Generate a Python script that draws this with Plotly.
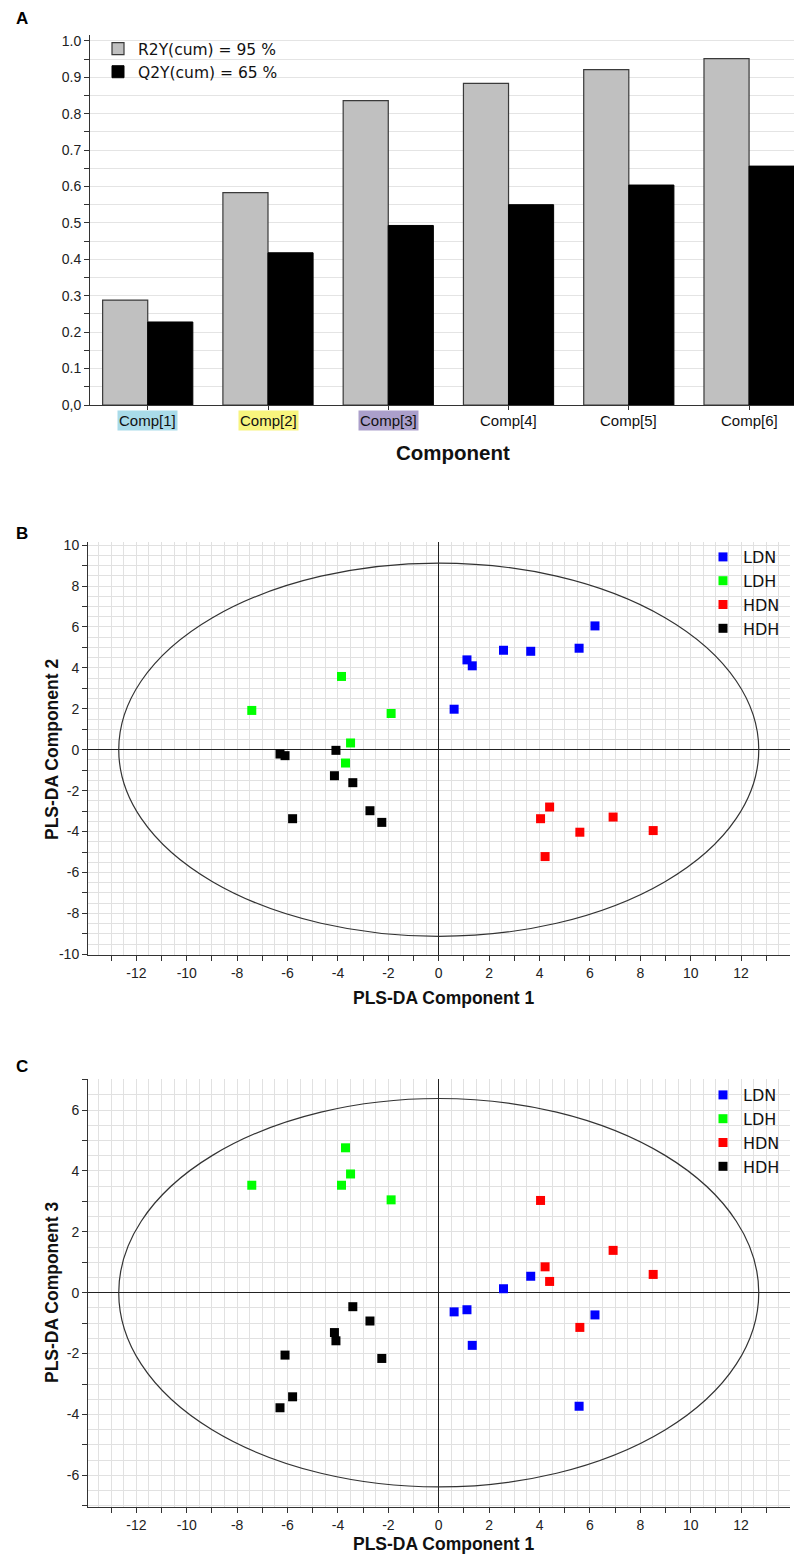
import plotly.graph_objects as go

# page body has an 8px margin: the figure is sized/offset so that it lands on the reference pixels
OFF = 8
W, H = 802 - OFF, 1555 - OFF

# ---------------- Panel A data ----------------
components = ["Comp[1]", "Comp[2]", "Comp[3]", "Comp[4]", "Comp[5]", "Comp[6]"]
r2y_cum = [0.288, 0.583, 0.836, 0.883, 0.921, 0.951]
q2y_cum = [0.228, 0.418, 0.493, 0.550, 0.604, 0.656]
comp_bg = ["#a9dbe9", "#f8f47e", "#ab9fcb", None, None, None]
r2y_name = "R2Y(cum) = 95 %"
q2y_name = "Q2Y(cum) = 65 %"
a_ytick_vals = [round(0.05 * i, 2) for i in range(21)]
a_ytick_text = ["0,0", "", "0.1", "", "0.2", "", "0.3", "", "0.4", "", "0.5", "",
                "0.6", "", "0.7", "", "0.8", "", "0.9", "", "1.0"]

# ---------------- Panels B / C data ----------------
groups = ["LDN", "LDH", "HDN", "HDH"]
group_colors = ["#0000ff", "#00ff00", "#ff0000", "#000000"]

ldn_c1 = [0.61, 1.12, 1.33, 2.57, 3.65, 5.57, 6.20]
ldn_c2 = [1.98, 4.39, 4.10, 4.86, 4.81, 4.96, 6.05]
ldn_c3 = [-0.63, -0.56, -1.73, 0.13, 0.54, -3.73, -0.73]

ldh_c1 = [-7.42, -3.86, -3.70, -3.50, -1.89]
ldh_c2 = [1.92, 3.58, -0.65, 0.33, 1.77]
ldh_c3 = [3.53, 3.53, 4.76, 3.90, 3.05]

hdn_c1 = [4.04, 4.22, 4.40, 5.60, 6.92, 8.51]
hdn_c2 = [-3.37, -5.22, -2.80, -4.03, -3.29, -3.95]
hdn_c3 = [3.03, 0.85, 0.37, -1.14, 1.39, 0.60]

hdh_c1 = [-6.30, -6.10, -5.80, -4.14, -4.08, -3.41, -2.73, -2.26]
hdh_c2 = [-0.21, -0.29, -3.37, -1.27, -0.03, -1.61, -2.98, -3.55]
hdh_c3 = [-3.78, -2.05, -3.42, -1.31, -1.58, -0.46, -0.93, -2.16]

comp1 = [ldn_c1, ldh_c1, hdn_c1, hdh_c1]
comp2 = [ldn_c2, ldh_c2, hdn_c2, hdh_c2]
comp3 = [ldn_c3, ldh_c3, hdn_c3, hdh_c3]

# Hotelling T2 ellipse semi-axes (comp1, compY)
ellipse_b = (12.7, 9.12)
ellipse_c = (12.7, 6.38)

b_xticks = list(range(-13, 14))
b_yticks = list(range(-10, 11))
c_yticks = list(range(-7, 8))


def even_labels(vals):
    return [str(v) if v % 2 == 0 else "" for v in vals]


ARIAL = "Liberation Sans, Arial, sans-serif"
VERD = "DejaVu Sans, Verdana, sans-serif"
GRID = "#e1e1e1"
AX = "#333333"


def px_x(p):
    return (p - OFF) / W


def px_y(p):
    return 1 - (p - OFF) / H


fig = go.Figure()

# ---- Panel A bars ----
fig.add_trace(go.Bar(
    x=list(range(len(components))), y=r2y_cum, name=r2y_name,
    marker=dict(color="#c0c0c0", line=dict(color="#3a3a3a", width=1.2)),
    xaxis="x", yaxis="y", legend="legend"))
fig.add_trace(go.Bar(
    x=list(range(len(components))), y=q2y_cum, name=q2y_name,
    marker=dict(color="#000000", line=dict(color="#000000", width=1)),
    xaxis="x", yaxis="y", legend="legend"))

# ---- Panel B and C scatter ----
for g, col, c1, c2, c3 in zip(groups, group_colors, comp1, comp2, comp3):
    fig.add_trace(go.Scatter(
        x=c1, y=c2, mode="markers", name=g,
        marker=dict(symbol="square", size=9, color=col),
        xaxis="x2", yaxis="y2", legend="legend2"))
    fig.add_trace(go.Scatter(
        x=c1, y=c3, mode="markers", name=g,
        marker=dict(symbol="square", size=9, color=col),
        xaxis="x3", yaxis="y3", legend="legend3"))

shapes = [
    dict(type="circle", xref="x2", yref="y2",
         x0=-ellipse_b[0], x1=ellipse_b[0], y0=-ellipse_b[1], y1=ellipse_b[1],
         line=dict(color="#333333", width=1.2), layer="above"),
    dict(type="circle", xref="x3", yref="y3",
         x0=-ellipse_c[0], x1=ellipse_c[0], y0=-ellipse_c[1], y1=ellipse_c[1],
         line=dict(color="#333333", width=1.2), layer="above"),
]

annotations = []
# category labels for panel A
for i, (lab, bg) in enumerate(zip(components, comp_bg)):
    ann = dict(x=i, xref="x", y=0, yref="y", xanchor="center", yanchor="top", yshift=-5,
               text=lab, showarrow=False, font=dict(family=ARIAL, size=15, color="#111"),
               borderpad=1)
    if bg:
        ann["bgcolor"] = bg
    annotations.append(ann)


def paper_text(x, y, text, size, angle=0, color="#111"):
    return dict(x=px_x(x), y=px_y(y), xref="paper", yref="paper", text=text,
                xanchor="center", yanchor="middle", textangle=angle, showarrow=False,
                font=dict(family=ARIAL, size=size, color=color))


annotations += [
    paper_text(453, 453, "<b>Component</b>", 20.5),
    paper_text(22, 19, "<b>A</b>", 17, color="#000"),
    paper_text(22, 533, "<b>B</b>", 17, color="#000"),
    paper_text(22, 1066, "<b>C</b>", 17, color="#000"),
    paper_text(52, 750, "<b>PLS-DA Component 2</b>", 17.5, angle=-90),
    paper_text(443, 998, "<b>PLS-DA Component 1</b>", 17.5),
    paper_text(52, 1293, "<b>PLS-DA Component 3</b>", 17.5, angle=-90),
    paper_text(443, 1544, "<b>PLS-DA Component 1</b>", 17.5),
]

tickfont = dict(family=ARIAL, size=14, color="#222")

scatter_x = dict(
    range=[-13.92, 13.94], tickvals=b_xticks, ticktext=even_labels(b_xticks),
    ticks="outside", ticklen=5, tickcolor=AX, tickfont=tickfont,
    showline=True, linecolor=AX, linewidth=1,
    showgrid=True, gridcolor=GRID, gridwidth=1,
    minor=dict(dtick=0.5, tick0=0, showgrid=True, gridcolor=GRID, gridwidth=1, ticks=""),
    zeroline=True, zerolinecolor="#222", zerolinewidth=1, fixedrange=True,
    automargin=False)


def scatter_y(rng, ticks):
    return dict(
        range=rng, tickvals=ticks, ticktext=even_labels(ticks),
        ticks="outside", ticklen=5, tickcolor=AX, tickfont=tickfont,
        showline=True, linecolor=AX, linewidth=1,
        showgrid=True, gridcolor=GRID, gridwidth=1,
        minor=dict(dtick=0.5, tick0=0, showgrid=True, gridcolor=GRID, gridwidth=1, ticks=""),
        zeroline=True, zerolinecolor="#222", zerolinewidth=1, fixedrange=True,
        automargin=False)


fig.update_layout(
    width=W, height=H, margin=dict(l=0, r=0, t=0, b=0, pad=0, autoexpand=False),
    paper_bgcolor="white", plot_bgcolor="white",
    barmode="group", bargap=0.25, bargroupgap=0,
    xaxis=dict(domain=[px_x(90), 1.0], anchor="y", range=[-0.48, 5.44],
               tickvals=list(range(6)), showticklabels=False, ticks="outside", ticklen=4,
               tickcolor=AX, showline=True, linecolor=AX, showgrid=False, zeroline=False,
               fixedrange=True, automargin=False),
    yaxis=dict(domain=[px_y(405), px_y(35)], anchor="x", range=[0, 1.016],
               tickvals=a_ytick_vals, ticktext=a_ytick_text, ticks="outside", ticklen=5,
               tickcolor=AX, tickfont=tickfont, showline=True, linecolor=AX,
               showgrid=True, gridcolor="#e4e4e4", gridwidth=1, zeroline=False,
               fixedrange=True, automargin=False),
    xaxis2=dict(domain=[px_x(88), px_x(790)], anchor="y2", **scatter_x),
    yaxis2=dict(domain=[px_y(955), px_y(542)], anchor="x2",
                **scatter_y([-10.03, 10.15], b_yticks)),
    xaxis3=dict(domain=[px_x(88), px_x(790)], anchor="y3", **scatter_x),
    yaxis3=dict(domain=[px_y(1507), px_y(1079)], anchor="x3",
                **scatter_y([-7.04, 7.02], c_yticks)),
    legend=dict(x=px_x(98), y=px_y(32), xanchor="left", yanchor="top",
                bgcolor="rgba(0,0,0,0)", font=dict(family=VERD, size=15.5, color="#111"),
                itemclick=False, itemdoubleclick=False),
    legend2=dict(x=px_x(703), y=px_y(540), xanchor="left", yanchor="top",
                 bgcolor="rgba(0,0,0,0)", font=dict(family=VERD, size=16, color="#111"),
                 itemclick=False, itemdoubleclick=False),
    legend3=dict(x=px_x(703), y=px_y(1078), xanchor="left", yanchor="top",
                 bgcolor="rgba(0,0,0,0)", font=dict(family=VERD, size=16, color="#111"),
                 itemclick=False, itemdoubleclick=False),
    shapes=shapes,
    annotations=annotations,
    showlegend=True,
)

fig.write_html("out.html")
